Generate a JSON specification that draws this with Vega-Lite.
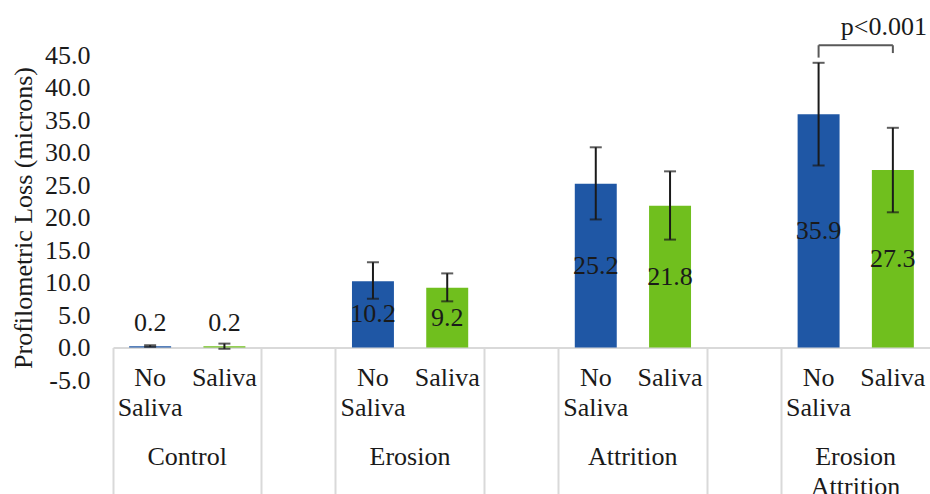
{
  "$schema": "https://vega.github.io/schema/vega-lite/v6.json",
  "width": 817,
  "height": 325,
  "autosize": {"type": "none"},
  "padding": {"left": 113, "top": 55, "right": 0, "bottom": 114},
  "background": "white",
  "config": {
    "font": "Liberation Serif",
    "view": {"stroke": null},
    "axis": {"labelFont": "Liberation Serif", "titleFont": "Liberation Serif"},
    "axisY": {"labelOverlap": false, "labelBound": false, "labelFlush": false, "ticks": false, "domain": false, "grid": false, "labelFontSize": 26, "labelColor": "#1a1a1a", "labelPadding": 23, "titleFontSize": 26, "titleFontWeight": "normal", "titleColor": "#1a1a1a", "titlePadding": 8}
  },
  "datasets": {
    "bars": [
      {"slot": "C-NS", "group": "Control", "saliva": "No Saliva", "value": 0.2, "lo": 0.1, "hi": 0.35},
      {"slot": "C-S", "group": "Control", "saliva": "Saliva", "value": 0.2, "lo": -0.2, "hi": 0.6},
      {"slot": "E-NS", "group": "Erosion", "saliva": "No Saliva", "value": 10.2, "lo": 7.5, "hi": 13.1},
      {"slot": "E-S", "group": "Erosion", "saliva": "Saliva", "value": 9.2, "lo": 7.1, "hi": 11.4},
      {"slot": "A-NS", "group": "Attrition", "saliva": "No Saliva", "value": 25.2, "lo": 19.7, "hi": 30.8},
      {"slot": "A-S", "group": "Attrition", "saliva": "Saliva", "value": 21.8, "lo": 16.6, "hi": 27.1},
      {"slot": "EA-NS", "group": "Erosion Attrition", "saliva": "No Saliva", "value": 35.9, "lo": 28.0, "hi": 43.8},
      {"slot": "EA-S", "group": "Erosion Attrition", "saliva": "Saliva", "value": 27.3, "lo": 20.8, "hi": 33.8}
    ],
    "bracket": [
      {"xa": "EA-NS", "xb": "EA-S", "ya": 46.5, "yb": 46.5},
      {"xa": "EA-NS", "xb": "EA-NS", "ya": 44.6, "yb": 46.5},
      {"xa": "EA-S", "xb": "EA-S", "ya": 45.3, "yb": 46.5}
    ],
    "note": [
      {"slot": "EA-S", "y": 49.3, "label": "p<0.001"}
    ]
  },
  "resolve": {"axis": {"x": "independent"}},
  "layer": [
    {
      "data": {"name": "bars"},
      "mark": {"type": "bar", "width": {"band": 0.565}},
      "encoding": {
        "x": {
          "field": "slot", "type": "nominal", "sort": null,
          "scale": {"domain": ["C-NS","C-S","G1","E-NS","E-S","G2","A-NS","A-S","G3","EA-NS","EA-S"], "paddingInner": 0, "paddingOuter": 0},
          "axis": {
            "orient": "bottom", "title": null, "offset": -32.5,
            "domainColor": "#d9d9d9", "domainWidth": 2,
            "bandPosition": 0, "ticks": true, "tickSize": 150, "tickWidth": 2,
            "tickColor": {"condition": {"test": "datum.value == 'C-S' || datum.value == 'E-S' || datum.value == 'A-S' || datum.value == 'EA-S'", "value": "transparent"}, "value": "#d9d9d9"},
            "labelExpr": "(datum.value == 'C-NS' || datum.value == 'E-NS' || datum.value == 'A-NS' || datum.value == 'EA-NS') ? ['No', 'Saliva'] : ((datum.value == 'C-S' || datum.value == 'E-S' || datum.value == 'A-S' || datum.value == 'EA-S') ? 'Saliva' : '')",
            "labelAngle": 0, "labelAlign": "center", "labelFontSize": 26, "labelColor": "#1a1a1a",
            "labelBaseline": "top", "labelLineHeight": 30, "labelPadding": -133,
            "labelOverlap": false, "labelBound": false, "labelFlush": false, "grid": false
          }
        },
        "y": {
          "field": "value", "type": "quantitative",
          "scale": {"domain": [-5, 45], "nice": false, "zero": false},
          "axis": {"orient": "left", "title": "Profilometric Loss (microns)", "values": [-5, 0, 5, 10, 15, 20, 25, 30, 35, 40, 45], "labelOverlap": false, "labelExpr": "datum.value < 0 ? '-' + format(-datum.value, '.1f') : format(datum.value, '.1f')"}
        },
        "color": {
          "field": "saliva", "type": "nominal",
          "scale": {"domain": ["No Saliva", "Saliva"], "range": ["#1f57a5", "#70bf1e"]},
          "legend": null
        }
      }
    },
    {
      "data": {"name": "bars"},
      "mark": {"type": "rule", "color": "#1a1a1a", "strokeWidth": 2},
      "encoding": {
        "x": {"field": "slot", "type": "nominal", "sort": null, "scale": {"domain": ["C-NS","C-S","G1","E-NS","E-S","G2","A-NS","A-S","G3","EA-NS","EA-S"], "paddingInner": 0, "paddingOuter": 0}, "axis": null},
        "y": {"field": "lo", "type": "quantitative", "scale": {"domain": [-5, 45], "nice": false, "zero": false}, "axis": {"orient": "left", "title": "Profilometric Loss (microns)", "values": [-5, 0, 5, 10, 15, 20, 25, 30, 35, 40, 45], "labelOverlap": false, "labelExpr": "datum.value < 0 ? '-' + format(-datum.value, '.1f') : format(datum.value, '.1f')"}},
        "y2": {"field": "hi"}
      }
    },
    {
      "data": {"name": "bars"},
      "mark": {"type": "tick", "color": "#1a1a1a", "size": 12, "thickness": 2},
      "encoding": {
        "x": {"field": "slot", "type": "nominal", "sort": null, "scale": {"domain": ["C-NS","C-S","G1","E-NS","E-S","G2","A-NS","A-S","G3","EA-NS","EA-S"], "paddingInner": 0, "paddingOuter": 0}, "axis": null},
        "y": {"field": "lo", "type": "quantitative", "scale": {"domain": [-5, 45], "nice": false, "zero": false}, "axis": {"orient": "left", "title": "Profilometric Loss (microns)", "values": [-5, 0, 5, 10, 15, 20, 25, 30, 35, 40, 45], "labelOverlap": false, "labelExpr": "datum.value < 0 ? '-' + format(-datum.value, '.1f') : format(datum.value, '.1f')"}}
      }
    },
    {
      "data": {"name": "bars"},
      "mark": {"type": "tick", "color": "#1a1a1a", "size": 12, "thickness": 2},
      "encoding": {
        "x": {"field": "slot", "type": "nominal", "sort": null, "scale": {"domain": ["C-NS","C-S","G1","E-NS","E-S","G2","A-NS","A-S","G3","EA-NS","EA-S"], "paddingInner": 0, "paddingOuter": 0}, "axis": null},
        "y": {"field": "hi", "type": "quantitative", "scale": {"domain": [-5, 45], "nice": false, "zero": false}, "axis": {"orient": "left", "title": "Profilometric Loss (microns)", "values": [-5, 0, 5, 10, 15, 20, 25, 30, 35, 40, 45], "labelOverlap": false, "labelExpr": "datum.value < 0 ? '-' + format(-datum.value, '.1f') : format(datum.value, '.1f')"}}
      }
    },
    {
      "data": {"name": "bars"},
      "transform": [
        {"filter": "datum.group != 'Control'"},
        {"calculate": "datum.value / 2", "as": "mid"}
      ],
      "mark": {"type": "text", "fontSize": 26, "color": "#1a1a1a", "baseline": "middle", "align": "center"},
      "encoding": {
        "x": {"field": "slot", "type": "nominal", "sort": null, "scale": {"domain": ["C-NS","C-S","G1","E-NS","E-S","G2","A-NS","A-S","G3","EA-NS","EA-S"], "paddingInner": 0, "paddingOuter": 0}, "axis": null},
        "y": {"field": "mid", "type": "quantitative", "scale": {"domain": [-5, 45], "nice": false, "zero": false}, "axis": {"orient": "left", "title": "Profilometric Loss (microns)", "values": [-5, 0, 5, 10, 15, 20, 25, 30, 35, 40, 45], "labelOverlap": false, "labelExpr": "datum.value < 0 ? '-' + format(-datum.value, '.1f') : format(datum.value, '.1f')"}},
        "text": {"field": "value", "type": "quantitative", "format": ".1f"}
      }
    },
    {
      "data": {"name": "bars"},
      "transform": [{"filter": "datum.group == 'Control'"}],
      "mark": {"type": "text", "fontSize": 26, "color": "#1a1a1a", "baseline": "alphabetic", "align": "center", "dy": -15},
      "encoding": {
        "x": {
          "field": "slot", "type": "nominal", "sort": null,
          "scale": {"domain": ["C-NS","C-S","G1","E-NS","E-S","G2","A-NS","A-S","G3","EA-NS","EA-S"], "paddingInner": 0, "paddingOuter": 0},
          "axis": {
            "orient": "bottom", "title": null, "offset": -32.5, "domain": false, "ticks": false, "grid": false,
            "labelExpr": "datum.value == 'C-NS' ? 'Control' : datum.value == 'E-NS' ? 'Erosion' : datum.value == 'A-NS' ? 'Attrition' : datum.value == 'EA-NS' ? ['Erosion', 'Attrition'] : ''",
            "labelOffset": 37, "labelAngle": 0, "labelAlign": "center", "labelFontSize": 26, "labelColor": "#1a1a1a",
            "labelBaseline": "top", "labelLineHeight": 30, "labelPadding": 96,
            "labelOverlap": false, "labelBound": false, "labelFlush": false
          }
        },
        "y": {"field": "value", "type": "quantitative", "scale": {"domain": [-5, 45], "nice": false, "zero": false}, "axis": {"orient": "left", "title": "Profilometric Loss (microns)", "values": [-5, 0, 5, 10, 15, 20, 25, 30, 35, 40, 45], "labelOverlap": false, "labelExpr": "datum.value < 0 ? '-' + format(-datum.value, '.1f') : format(datum.value, '.1f')"}},
        "text": {"field": "value", "type": "quantitative", "format": ".1f"}
      }
    },
    {
      "data": {"name": "bracket"},
      "mark": {"type": "rule", "color": "#595959", "strokeWidth": 2},
      "encoding": {
        "x": {"field": "xa", "type": "nominal", "sort": null, "bandPosition": 0.5, "scale": {"domain": ["C-NS","C-S","G1","E-NS","E-S","G2","A-NS","A-S","G3","EA-NS","EA-S"], "paddingInner": 0, "paddingOuter": 0}, "axis": null},
        "x2": {"field": "xb", "bandPosition": 0.5},
        "y": {"field": "ya", "type": "quantitative", "scale": {"domain": [-5, 45], "nice": false, "zero": false}, "axis": {"orient": "left", "title": "Profilometric Loss (microns)", "values": [-5, 0, 5, 10, 15, 20, 25, 30, 35, 40, 45], "labelOverlap": false, "labelExpr": "datum.value < 0 ? '-' + format(-datum.value, '.1f') : format(datum.value, '.1f')"}},
        "y2": {"field": "yb"}
      }
    },
    {
      "data": {"name": "note"},
      "mark": {"type": "text", "fontSize": 26, "color": "#1a1a1a", "baseline": "middle", "align": "center", "dx": -9},
      "encoding": {
        "x": {"field": "slot", "type": "nominal", "sort": null, "scale": {"domain": ["C-NS","C-S","G1","E-NS","E-S","G2","A-NS","A-S","G3","EA-NS","EA-S"], "paddingInner": 0, "paddingOuter": 0}, "axis": null},
        "y": {"field": "y", "type": "quantitative", "scale": {"domain": [-5, 45], "nice": false, "zero": false}, "axis": {"orient": "left", "title": "Profilometric Loss (microns)", "values": [-5, 0, 5, 10, 15, 20, 25, 30, 35, 40, 45], "labelOverlap": false, "labelExpr": "datum.value < 0 ? '-' + format(-datum.value, '.1f') : format(datum.value, '.1f')"}},
        "text": {"field": "label", "type": "nominal"}
      }
    }
  ]
}
